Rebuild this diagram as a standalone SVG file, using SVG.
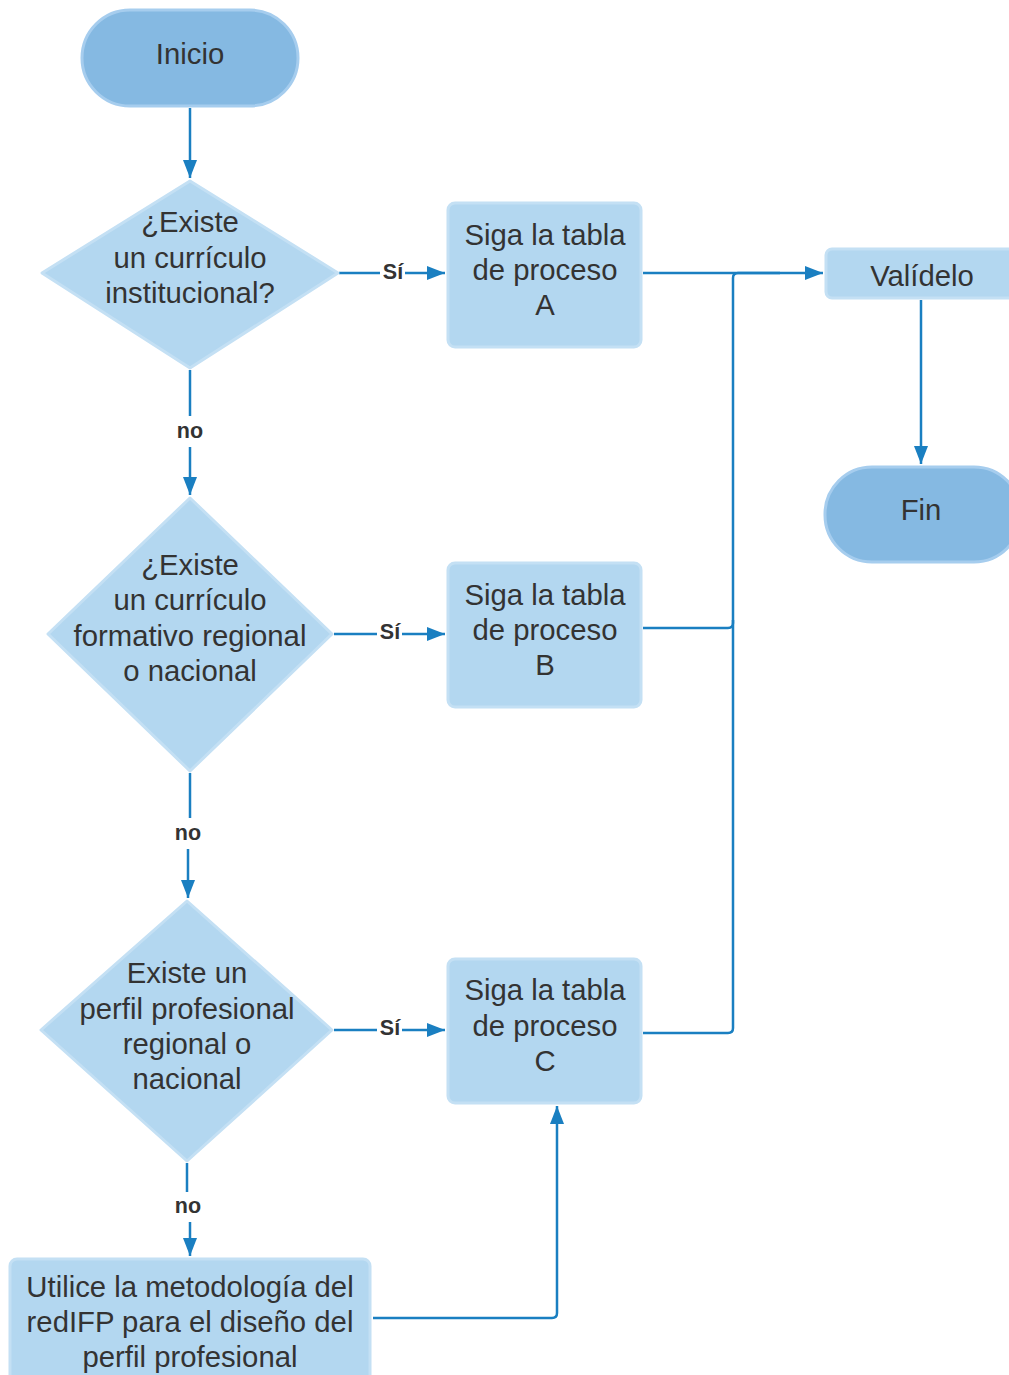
<svg xmlns="http://www.w3.org/2000/svg" width="1009" height="1375" viewBox="0 0 1009 1375">
<defs>
<marker id="arr" markerUnits="userSpaceOnUse" markerWidth="20" markerHeight="16" refX="18" refY="8" orient="auto">
<path d="M0,1 L18,8 L0,15 Z" fill="#1a7fc1"/>
</marker>
<style>
.term{fill:#85b9e2;stroke:#a6cdee;stroke-width:3}
.proc{fill:#b3d7f0;stroke:#c4e0f4;stroke-width:3}
.dec{fill:#b3d7f0;stroke:#c4e0f4;stroke-width:3;stroke-linejoin:round}
.t{font-family:"Liberation Sans",Arial,sans-serif;font-size:29.3px;fill:#333;text-anchor:middle}
.lbl{font-family:"Liberation Sans",Arial,sans-serif;font-size:21.5px;font-weight:bold;fill:#333;text-anchor:middle}
.c{fill:none;stroke:#1a7fc1;stroke-width:2.5}
</style>
</defs>
<rect width="1009" height="1375" fill="#fff"/>
<g id="connectors">
<path class="c" d="M190,108 V178" marker-end="url(#arr)"/>
<path class="c" d="M339,273 H380"/>
<path class="c" d="M405,273 H445" marker-end="url(#arr)"/>
<path class="c" d="M190,370 V416"/>
<path class="c" d="M190,447 V495" marker-end="url(#arr)"/>
<path class="c" d="M334,634 H377"/>
<path class="c" d="M402,634 H445" marker-end="url(#arr)"/>
<path class="c" d="M190,773 V818"/>
<path class="c" d="M188,849 V898" marker-end="url(#arr)"/>
<path class="c" d="M334,1030 H377"/>
<path class="c" d="M402,1030 H445" marker-end="url(#arr)"/>
<path class="c" d="M187,1163 V1192"/>
<path class="c" d="M190,1222 V1256" marker-end="url(#arr)"/>
<path class="c" d="M643,273 H823" marker-end="url(#arr)"/>
<path class="c" d="M643,628 H728 Q733,628 733,623 V278 Q733,273 738,273 H780"/>
<path class="c" d="M643,1033 H728 Q733,1033 733,1028 V620"/>
<path class="c" d="M373,1318 H552 Q557,1318 557,1313 V1106" marker-end="url(#arr)"/>
<path class="c" d="M921,300 V464" marker-end="url(#arr)"/>
</g>
<g id="labels">
<text class="lbl" x="393" y="279">Sí</text>
<text class="lbl" x="390" y="639">Sí</text>
<text class="lbl" x="390" y="1035">Sí</text>
<text class="lbl" x="190" y="438">no</text>
<text class="lbl" x="188" y="840">no</text>
<text class="lbl" x="188" y="1213">no</text>
</g>
<g id="inicio">
<rect class="term" x="82" y="10" width="216" height="96" rx="48"/>
<text class="t" x="190" y="64">Inicio</text>
</g>
<g id="dec1">
<path class="dec" d="M190,181 L338,273 L190,368 L42,273 Z"/>
<text class="t" x="190" y="232">¿Existe</text>
<text class="t" x="190" y="268">un currículo</text>
<text class="t" x="190" y="303">institucional?</text>
</g>
<g id="procA">
<rect class="proc" x="448" y="203" width="193" height="144" rx="7"/>
<text class="t" x="545" y="245">Siga la tabla</text>
<text class="t" x="545" y="280">de proceso</text>
<text class="t" x="545" y="315">A</text>
</g>
<g id="validelo">
<rect class="proc" x="826" y="249" width="200" height="49" rx="6"/>
<text class="t" x="922" y="286">Valídelo</text>
</g>
<g id="fin">
<rect class="term" x="825" y="467" width="196" height="95" rx="47"/>
<text class="t" x="921" y="520">Fin</text>
</g>
<g id="dec2">
<path class="dec" d="M190,498 L332,634 L190,771 L48,634 Z"/>
<text class="t" x="190" y="575">¿Existe</text>
<text class="t" x="190" y="610">un currículo</text>
<text class="t" x="190" y="646">formativo regional</text>
<text class="t" x="190" y="681">o nacional</text>
</g>
<g id="procB">
<rect class="proc" x="448" y="563" width="193" height="144" rx="7"/>
<text class="t" x="545" y="605">Siga la tabla</text>
<text class="t" x="545" y="640">de proceso</text>
<text class="t" x="545" y="675">B</text>
</g>
<g id="dec3">
<path class="dec" d="M187,901 L332,1030 L187,1161 L41,1030 Z"/>
<text class="t" x="187" y="983">Existe un</text>
<text class="t" x="187" y="1019">perfil profesional</text>
<text class="t" x="187" y="1054">regional o</text>
<text class="t" x="187" y="1089">nacional</text>
</g>
<g id="procC">
<rect class="proc" x="448" y="959" width="193" height="144" rx="7"/>
<text class="t" x="545" y="1000">Siga la tabla</text>
<text class="t" x="545" y="1036">de proceso</text>
<text class="t" x="545" y="1071">C</text>
</g>
<g id="procD">
<rect class="proc" x="10" y="1259" width="360" height="140" rx="7"/>
<text class="t" x="190" y="1297">Utilice la metodología del</text>
<text class="t" x="190" y="1332">redIFP para el diseño del</text>
<text class="t" x="190" y="1367">perfil profesional</text>
</g>
</svg>
